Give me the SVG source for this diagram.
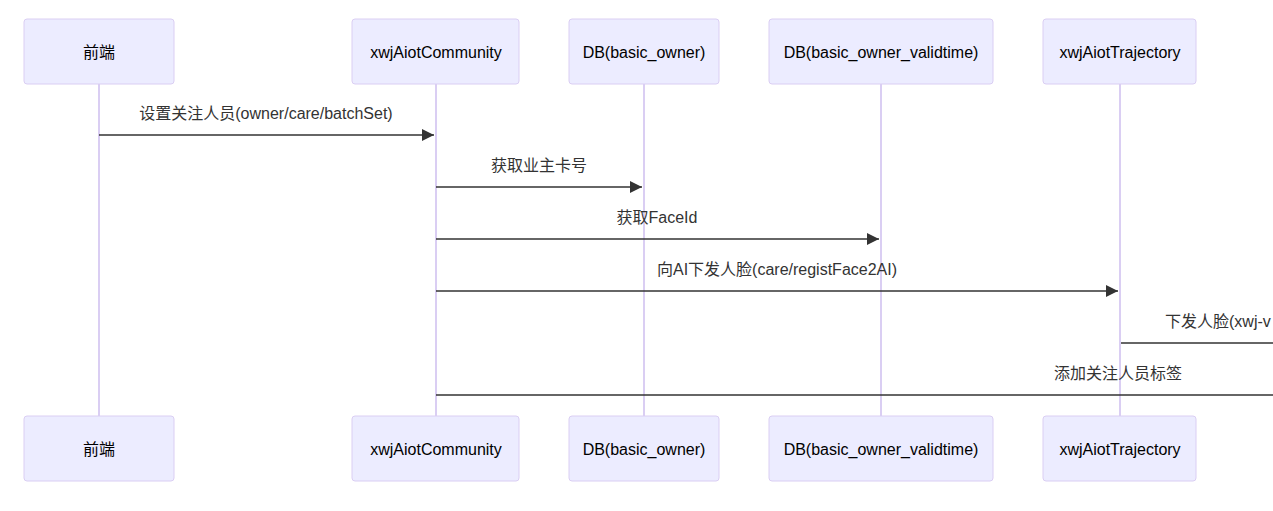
<svg xmlns="http://www.w3.org/2000/svg" width="1273" height="511" viewBox="0 0 1273 511">
<defs>
<marker id="arrow" markerWidth="12" markerHeight="12" refX="10" refY="5" viewBox="0 0 10 10" markerUnits="userSpaceOnUse" orient="auto">
<path d="M0,0 L10,5 L0,10 z" fill="#333"/>
</marker>
<style>
.actor{fill:#ECECFF;stroke:#DACEF3;stroke-width:1}
.life{stroke:#DACEF3;stroke-width:2}
.atext{font-family:"Liberation Sans","Noto Sans CJK SC",sans-serif;font-size:16px;fill:#000;text-anchor:middle;dominant-baseline:central}
.msg{stroke:#333;stroke-width:1.5;fill:none}
.mtext{font-family:"Liberation Sans","Noto Sans CJK SC",sans-serif;font-size:16px;fill:#333;text-anchor:middle;dominant-baseline:central}
</style>
</defs>
<rect width="1273" height="511" fill="#fff"/>
<g id="lifelines">
<line class="life" x1="99" y1="84" x2="99" y2="416"/>
<line class="life" x1="436" y1="84" x2="436" y2="416"/>
<line class="life" x1="644" y1="84" x2="644" y2="416"/>
<line class="life" x1="881" y1="84" x2="881" y2="416"/>
<line class="life" x1="1120" y1="84" x2="1120" y2="416"/>
</g>
<g id="actor-frontend">
<rect class="actor" x="24" y="19" width="150" height="65" rx="3"/>
<text class="atext" x="99" y="52">前端</text>
<rect class="actor" x="24" y="416" width="150" height="65" rx="3"/>
<text class="atext" x="99" y="449">前端</text>
</g>
<g id="actor-community">
<rect class="actor" x="352" y="19" width="167" height="65" rx="3"/>
<text class="atext" x="436" y="52">xwjAiotCommunity</text>
<rect class="actor" x="352" y="416" width="167" height="65" rx="3"/>
<text class="atext" x="436" y="449">xwjAiotCommunity</text>
</g>
<g id="actor-db-owner">
<rect class="actor" x="569" y="19" width="150" height="65" rx="3"/>
<text class="atext" x="644" y="52">DB(basic_owner)</text>
<rect class="actor" x="569" y="416" width="150" height="65" rx="3"/>
<text class="atext" x="644" y="449">DB(basic_owner)</text>
</g>
<g id="actor-db-validtime">
<rect class="actor" x="769" y="19" width="224" height="65" rx="3"/>
<text class="atext" x="881" y="52">DB(basic_owner_validtime)</text>
<rect class="actor" x="769" y="416" width="224" height="65" rx="3"/>
<text class="atext" x="881" y="449">DB(basic_owner_validtime)</text>
</g>
<g id="actor-trajectory">
<rect class="actor" x="1043" y="19" width="153" height="65" rx="3"/>
<text class="atext" x="1120" y="52">xwjAiotTrajectory</text>
<rect class="actor" x="1043" y="416" width="153" height="65" rx="3"/>
<text class="atext" x="1120" y="449">xwjAiotTrajectory</text>
</g>
<g id="connectors">
<line class="msg" x1="99" y1="135" x2="434" y2="135" marker-end="url(#arrow)"/>
<text class="mtext" x="266" y="113">设置关注人员(owner/care/batchSet)</text>
<line class="msg" x1="436" y1="187" x2="642" y2="187" marker-end="url(#arrow)"/>
<text class="mtext" x="539" y="165">获取业主卡号</text>
<line class="msg" x1="436" y1="239" x2="879" y2="239" marker-end="url(#arrow)"/>
<text class="mtext" x="657" y="217">获取FaceId</text>
<line class="msg" x1="436" y1="291" x2="1118" y2="291" marker-end="url(#arrow)"/>
<text class="mtext" x="777" y="269">向AI下发人脸(care/registFace2AI)</text>
<line class="msg" x1="1121" y1="343" x2="1280" y2="343"/>
<text class="mtext" x="1165" y="321" style="text-anchor:start">下发人脸(xwj-v</text>
<line class="msg" x1="436" y1="395" x2="1280" y2="395"/>
<text class="mtext" x="1118" y="373">添加关注人员标签</text>
</g>
</svg>
